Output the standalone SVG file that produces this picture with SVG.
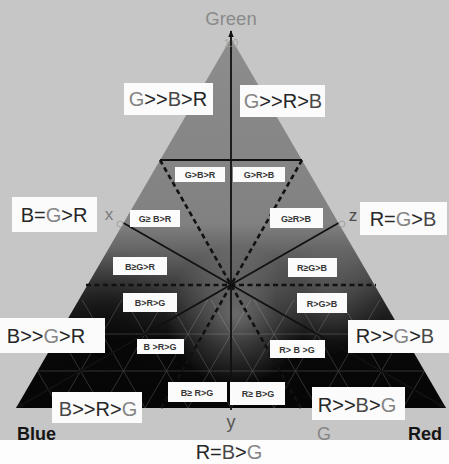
<svg xmlns="http://www.w3.org/2000/svg" width="449" height="464" viewBox="0 0 449 464">
  <style>
    .big{font-family:"Liberation Sans",Arial,sans-serif;font-size:20px;text-anchor:middle;fill:#262626}
    .sm{font-family:"Liberation Sans",Arial,sans-serif;font-size:9px;font-weight:bold;text-anchor:middle;fill:#363636}
    .box{fill:#fbfbfb}
    .g{fill:#858585}
    .b{fill:#474747}
    .grid{stroke:#dcdcdc;stroke-width:0.8;fill:none}
    .solid{stroke:#111;stroke-width:1.8;fill:none}
    .dash{stroke:#111;stroke-width:2.6;stroke-dasharray:5 3.5;fill:none}
    .lbl{font-family:"Liberation Sans",Arial,sans-serif}
  </style>
  <defs>
    <linearGradient id="shade" gradientUnits="userSpaceOnUse" x1="0" y1="38" x2="0" y2="408">
      <stop offset="0" stop-color="#8d8d8d"/>
      <stop offset="0.5" stop-color="#818181"/>
      <stop offset="0.6" stop-color="#5a5a5a"/>
      <stop offset="0.72" stop-color="#262626"/>
      <stop offset="0.82" stop-color="#090909"/>
      <stop offset="1" stop-color="#050505"/>
    </linearGradient>
    <radialGradient id="glow" gradientUnits="userSpaceOnUse" cx="236" cy="316" r="70">
      <stop offset="0" stop-color="#ffffff" stop-opacity="0.34"/>
      <stop offset="1" stop-color="#ffffff" stop-opacity="0"/>
    </radialGradient>
    <radialGradient id="glowR" gradientUnits="userSpaceOnUse" cx="330" cy="300" r="55">
      <stop offset="0" stop-color="#ffffff" stop-opacity="0.16"/>
      <stop offset="1" stop-color="#ffffff" stop-opacity="0"/>
    </radialGradient>
    <radialGradient id="darkL" gradientUnits="userSpaceOnUse" cx="105" cy="318" r="70">
      <stop offset="0" stop-color="#000000" stop-opacity="0.45"/>
      <stop offset="1" stop-color="#000000" stop-opacity="0"/>
    </radialGradient>
    <clipPath id="tri">
      <polygon points="231,38 446,408 16,408"/>
    </clipPath>
    <clipPath id="lower">
      <rect x="0" y="300" width="449" height="110"/>
    </clipPath>
    <marker id="arr" viewBox="0 0 10 10" refX="9" refY="5" markerWidth="7" markerHeight="7" markerUnits="userSpaceOnUse" orient="auto">
      <path d="M0,1 L10,5 L0,9 z" fill="#111"/>
    </marker>
  </defs>

  <!-- paper -->
  <rect width="449" height="464" fill="#c6c6c6"/>
  <rect y="440" width="449" height="24" fill="#fdfdfd"/>

  <!-- ternary triangle with shading -->
  <g id="triangle">
    <polygon points="231,38 446,408 16,408" fill="url(#shade)"/>
    <g clip-path="url(#tri)">
      <rect x="0" y="0" width="449" height="440" fill="url(#darkL)"/>
      <rect x="0" y="0" width="449" height="440" fill="url(#glow)"/>
      <rect x="0" y="0" width="449" height="440" fill="url(#glowR)"/>
    </g>
    <!-- ternary grid, only showing against the dark lower part -->
    <g class="grid" opacity="0.25" clip-path="url(#lower)">
      <path d="M37.5,371H424.5M59,334H403M80.5,297H381.5M102,260H360M123.5,223H338.5M145,186H317M166.5,149H295.5M188,112H274M209.5,75H252.5"/>
      <path d="M59,408L252.5,75M102,408L274,112M145,408L295.5,149M188,408L317,186M231,408L338.5,223M274,408L360,260M317,408L381.5,297M360,408L403,334M403,408L424.5,371"/>
      <path d="M59,408L37.5,371M102,408L59,334M145,408L80.5,297M188,408L102,260M231,408L123.5,223M274,408L145,186M317,408L166.5,149M360,408L188,112M403,408L209.5,75"/>
    </g>
  </g>

  <!-- axes and region boundaries -->
  <g id="connectors">
    <path class="solid" d="M231,410V31" marker-end="url(#arr)"/>
    <path class="solid" d="M123.5,223L445,407.5" marker-end="url(#arr)"/>
    <path class="solid" d="M338.5,223L17,407.5" marker-end="url(#arr)"/>
    <path class="solid" stroke-width="2.6" d="M160,160H302"/>
    <path class="dash" d="M160,160L301,408"/>
    <path class="dash" d="M302,160L161,408"/>
    <path class="dash" d="M86,285H376"/>
    <circle cx="120" cy="224" r="3" fill="none" stroke="#a0a0a0" stroke-width="1"/>
    <circle cx="342" cy="224" r="3" fill="none" stroke="#a0a0a0" stroke-width="1"/>
  </g>

  <!-- axis names -->
  <g id="axis-labels" class="lbl">
    <text x="231" y="25" font-size="18.5" text-anchor="middle" fill="#8a8a8a">Green</text>
    <text x="231" y="47" font-size="10" text-anchor="middle" fill="#a2a2a2">1.0</text>
    <text x="17" y="440" font-size="18" font-weight="bold" fill="#151515">Blue</text>
    <text x="442" y="440" font-size="18" font-weight="bold" text-anchor="end" fill="#151515">Red</text>
    <text x="324" y="440" font-size="18" text-anchor="middle" fill="#858585">G</text>
    <text x="231" y="428" font-size="18" text-anchor="middle" fill="#555">y</text>
    <text x="109" y="220" font-size="17" text-anchor="middle" fill="#7c7c7c">x</text>
    <text x="353" y="221" font-size="17" text-anchor="middle" fill="#4a4a4a">z</text>
  </g>

  <!-- large region labels -->
  <g id="n-GggBgR"><rect class="box" x="124" y="83" width="89" height="32"/>
    <text class="big" x="168" y="106"><tspan class="g">G</tspan>&gt;&gt;<tspan class="b">B</tspan>&gt;R</text></g>
  <g id="n-GggRgB"><rect class="box" x="240" y="85" width="85" height="32"/>
    <text class="big" x="283" y="108"><tspan class="g">G</tspan>&gt;&gt;R&gt;<tspan class="b">B</tspan></text></g>
  <g id="n-BeGgR"><rect class="box" x="12" y="197" width="85" height="35"/>
    <text class="big" x="54" y="222">B=<tspan class="g">G</tspan>&gt;R</text></g>
  <g id="n-ReGgB"><rect class="box" x="360" y="202" width="87" height="33"/>
    <text class="big" x="403" y="226">R=<tspan class="g">G</tspan>&gt;<tspan class="b">B</tspan></text></g>
  <g id="n-BggGgR"><rect class="box" x="0" y="318" width="105" height="35"/>
    <text class="big" x="46" y="343">B&gt;&gt;<tspan class="g">G</tspan>&gt;R</text></g>
  <g id="n-RggGgB"><rect class="box" x="348" y="320" width="101" height="33"/>
    <text class="big" x="395" y="343">R&gt;&gt;<tspan class="g">G</tspan>&gt;<tspan class="b">B</tspan></text></g>
  <g id="n-BggRgG"><rect class="box" x="52" y="392" width="90" height="31"/>
    <text class="big" x="98" y="416"><tspan class="b">B</tspan>&gt;&gt;R&gt;<tspan class="g">G</tspan></text></g>
  <g id="n-RggBgG"><rect class="box" x="312" y="387" width="93" height="33"/>
    <text class="big" x="357" y="412">R&gt;&gt;<tspan class="b">B</tspan>&gt;<tspan class="g">G</tspan></text></g>
  <g id="n-ReBgG">
    <text class="big" x="229" y="459" font-size="19">R=<tspan class="b">B</tspan>&gt;<tspan class="g">G</tspan></text></g>

  <!-- small sub-region labels -->
  <g id="s1"><rect class="box" x="175" y="167" width="50" height="15"/><text class="sm" x="200" y="178">G&gt;B&gt;R</text></g>
  <g id="s2"><rect class="box" x="233" y="167" width="52" height="15"/><text class="sm" x="259" y="178">G&gt;R&gt;B</text></g>
  <g id="s3"><rect class="box" x="130" y="210" width="50" height="17"/><text class="sm" x="155" y="222">G≥ B&gt;R</text></g>
  <g id="s4"><rect class="box" x="270" y="208" width="53" height="20"/><text class="sm" x="296" y="222">G≥R&gt;B</text></g>
  <g id="s5"><rect class="box" x="113" y="257" width="54" height="18"/><text class="sm" x="140" y="270">B≥G&gt;R</text></g>
  <g id="s6"><rect class="box" x="288" y="258" width="49" height="19"/><text class="sm" x="312" y="271">R≥G&gt;B</text></g>
  <g id="s7"><rect class="box" x="123" y="293" width="54" height="19"/><text class="sm" x="150" y="306">B&gt;R&gt;G</text></g>
  <g id="s8"><rect class="box" x="297" y="293" width="50" height="20"/><text class="sm" x="322" y="307">R&gt;G&gt;B</text></g>
  <g id="s9"><rect class="box" x="137" y="339" width="47" height="15"/><text class="sm" x="160" y="350" font-size="8">B &gt;R&gt;G</text></g>
  <g id="s10"><rect class="box" x="270" y="340" width="55" height="18"/><text class="sm" x="297" y="353" font-size="8">R&gt; B &gt;G</text></g>
  <g id="s11"><rect class="box" x="168" y="382" width="59" height="20"/><text class="sm" x="197" y="396">B≥ R&gt;G</text></g>
  <g id="s12"><rect class="box" x="230" y="382" width="55" height="23"/><text class="sm" x="258" y="397">R≥ B&gt;G</text></g>
</svg>
